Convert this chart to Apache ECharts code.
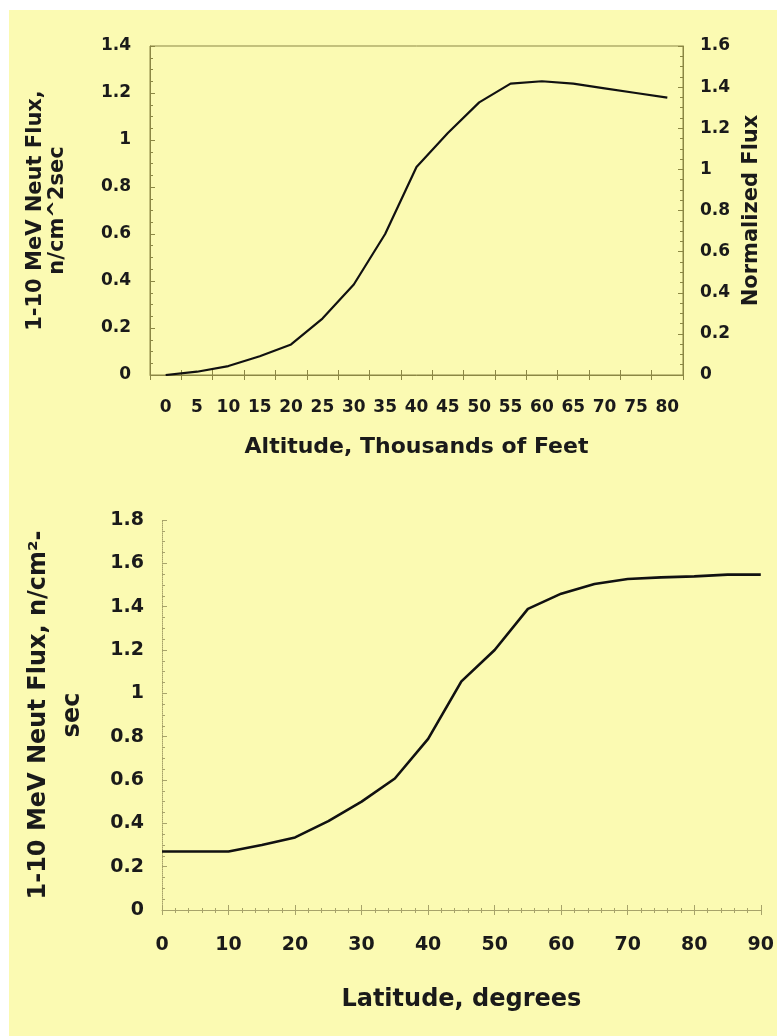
<!DOCTYPE html>
<html>
<head>
<meta charset="utf-8">
<script src="https://cdn.jsdelivr.net/npm/echarts@6/dist/echarts.min.js"></script>
<style>
html,body{margin:0;padding:0;background:#ffffff;}
#bg{position:absolute;left:9px;top:10px;right:0;bottom:0;background:#fbfab2;}
#chart{position:absolute;left:0;top:0;width:777px;height:1036px;}
</style>
</head>
<body>
<div id="bg"></div>
<div id="chart"></div>
<script>
// Top chart: altitude (thousands of feet) vs 1-10 MeV neutron flux
const altitudes = ['0','5','10','15','20','25','30','35','40','45','50','55','60','65','70','75','80'];
const altitudeFlux = [0.0, 0.014, 0.038, 0.08, 0.13, 0.24, 0.385, 0.6, 0.885, 1.03, 1.16, 1.24, 1.25, 1.24, 1.22, 1.2, 1.18];

// Bottom chart: latitude (degrees) vs 1-10 MeV neutron flux
const latitudes = [0, 5, 10, 15, 20, 25, 30, 35, 40, 45, 50, 55, 60, 65, 70, 75, 80, 85, 90];
const latitudeFlux = [0.27, 0.27, 0.27, 0.3, 0.335, 0.41, 0.5, 0.607, 0.79, 1.055, 1.2, 1.39, 1.46, 1.505, 1.528, 1.535, 1.54, 1.548, 1.548];

const FONT = 'DejaVu Sans, Liberation Sans, Arial, sans-serif';
const AX = '#8b8744';
const AX2 = '#a7a36a';

const chart = echarts.init(document.getElementById('chart'), null, {renderer: 'canvas'});
const lbl = (size) => ({color: '#1a1a1a', fontFamily: FONT, fontWeight: 'bold', fontSize: size});

chart.setOption({
  backgroundColor: 'transparent',
  animation: false,
  grid: [
    {left: 150, top: 46, width: 533, height: 329, show: true, borderColor: AX, borderWidth: 1, backgroundColor: 'transparent'},
    {left: 162, top: 520, width: 600, height: 390}
  ],
  xAxis: [
    {
      type: 'category', gridIndex: 0, data: altitudes, boundaryGap: true,
      axisLine: {show: true, lineStyle: {color: AX, width: 1}},
      axisTick: {show: true, inside: false, length: 5, lineStyle: {color: AX}},
      axisLabel: Object.assign(lbl(17), {margin: 24, interval: 0}),
      splitLine: {show: false},
      name: 'Altitude, Thousands of Feet', nameLocation: 'middle', nameGap: 61,
      nameTextStyle: lbl(22)
    },
    {
      type: 'value', gridIndex: 1, min: 0, max: 90, interval: 10,
      axisLine: {show: true, lineStyle: {color: AX2, width: 1}},
      axisTick: {show: true, inside: false, length: 5, lineStyle: {color: AX2}},
      minorTick: {show: true, splitNumber: 5, length: 3, lineStyle: {color: AX2}},
      axisLabel: Object.assign(lbl(19), {margin: 26}),
      splitLine: {show: false},
      name: 'Latitude, degrees', nameLocation: 'middle', nameGap: 78,
      nameTextStyle: lbl(24)
    },
    {
      type: 'category', gridIndex: 0, data: altitudes, boundaryGap: true, position: 'bottom',
      axisLine: {show: false},
      axisTick: {show: true, inside: true, length: 5, lineStyle: {color: AX}},
      axisLabel: {show: false},
      splitLine: {show: false}
    },
    {
      type: 'value', gridIndex: 1, min: 0, max: 90, interval: 10, position: 'bottom',
      axisLine: {show: false},
      axisTick: {show: true, inside: true, length: 5, lineStyle: {color: AX2}},
      minorTick: {show: true, splitNumber: 5, length: 2, lineStyle: {color: AX2}},
      axisLabel: {show: false},
      splitLine: {show: false}
    }
  ],
  yAxis: [
    {
      type: 'value', gridIndex: 0, position: 'left', min: 0, max: 1.4, interval: 0.2,
      axisLine: {show: true, lineStyle: {color: AX, width: 1}},
      axisTick: {show: true, inside: true, length: 5, lineStyle: {color: AX}},
      minorTick: {show: true, splitNumber: 4, length: 3, lineStyle: {color: AX}},
      axisLabel: Object.assign(lbl(17), {margin: 19}),
      splitLine: {show: false},
      name: '1-10 MeV Neut Flux,\nn/cm^2sec', nameLocation: 'middle', nameRotate: 90, nameGap: 81,
      nameTextStyle: Object.assign(lbl(21), {lineHeight: 22})
    },
    {
      type: 'value', gridIndex: 0, position: 'right', min: 0, max: 1.6, interval: 0.2,
      axisLine: {show: true, lineStyle: {color: AX, width: 1}},
      axisTick: {show: true, inside: true, length: 5, lineStyle: {color: AX}},
      minorTick: {show: true, splitNumber: 4, length: 3, lineStyle: {color: AX}},
      axisLabel: Object.assign(lbl(17), {margin: 17}),
      splitLine: {show: false},
      name: 'Normalized Flux', nameLocation: 'middle', nameRotate: 90, nameGap: 58,
      nameTextStyle: lbl(21)
    },
    {
      type: 'value', gridIndex: 1, min: 0, max: 1.8, interval: 0.2,
      axisLine: {show: true, lineStyle: {color: AX2, width: 1, type: 'dotted'}},
      axisTick: {show: true, inside: true, length: 5, lineStyle: {color: AX2}},
      minorTick: {show: true, splitNumber: 4, length: 3, lineStyle: {color: AX2}},
      axisLabel: Object.assign(lbl(19), {margin: 18}),
      splitLine: {show: false},
      name: '1-10 MeV Neut Flux, n/cm\u00B2-\nsec', nameLocation: 'middle', nameRotate: 90, nameGap: 72,
      nameTextStyle: Object.assign(lbl(24), {lineHeight: 34})
    }
  ],
  series: [
    {
      type: 'line', xAxisIndex: 0, yAxisIndex: 0, data: altitudeFlux,
      symbol: 'none', lineStyle: {color: '#111', width: 2.2}
    },
    {
      type: 'line', xAxisIndex: 1, yAxisIndex: 2,
      data: latitudes.map((x, i) => [x, latitudeFlux[i]]),
      symbol: 'none', lineStyle: {color: '#111', width: 2.6}
    }
  ]
});
</script>
</body>
</html>
